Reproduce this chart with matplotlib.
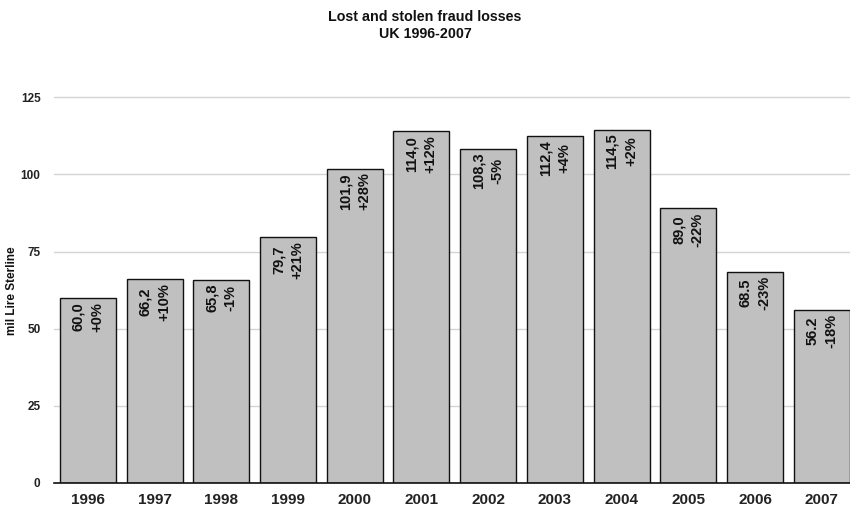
import matplotlib.pyplot as plt
import numpy as np

plt.rcParams['font.family'] = ['Liberation Sans', 'DejaVu Sans']

years = ["1996", "1997", "1998", "1999", "2000", "2001",
         "2002", "2003", "2004", "2005", "2006", "2007"]
losses = [60.0, 66.2, 65.8, 79.7, 101.9, 114.0, 108.3, 112.4, 114.5, 89.0, 68.5, 56.2]
loss_text = ["60,0", "66,2", "65,8", "79,7", "101,9", "114,0",
             "108,3", "112,4", "114,5", "89,0", "68.5", "56.2"]
change = ["+0%", "+10%", "-1%", "+21%", "+28%", "+12%",
          "-5%", "+4%", "+2%", "-22%", "-23%", "-18%"]
yticks = [0, 25, 50, 75, 100, 125]

fig = plt.figure(figsize=(8.5, 5.09), dpi=100)
ax = fig.add_axes([0.0641, 0.0511, 0.9418, 0.788])

x = np.arange(len(years))
ax.bar(x, losses, width=0.84, color="#c0c0c0", edgecolor="#111111", linewidth=1.0, zorder=2)

for xi, v, t, c in zip(x, losses, loss_text, change):
    ax.text(xi, v - 1.3, t + "\n" + c, rotation=90, ha="center", va="top",
            multialignment="center", fontsize=10.5, fontweight="bold",
            color="#111111", linespacing=1.45, zorder=3)

ax.set_xlim(-0.5, len(years) - 0.5)
ax.set_ylim(0, 130)
ax.set_xticks(x)
ax.set_xticklabels(years, fontsize=11, fontweight="bold", color="#222222")
ax.set_yticks(yticks)
ax.set_yticklabels([str(t) for t in yticks], fontsize=8.5, fontweight="bold", color="#222222")
ax.tick_params(axis="both", length=0)
ax.tick_params(axis="x", pad=7)
ax.tick_params(axis="y", pad=10)

ax.yaxis.grid(True, color="#d4d4d4", linewidth=1.0, zorder=0)
ax.set_axisbelow(True)
for side in ["top", "right", "left"]:
    ax.spines[side].set_visible(False)
ax.spines["bottom"].set_color("#111111")
ax.spines["bottom"].set_linewidth(1.2)

ax.set_ylabel("mil Lire Sterline", fontsize=8.5, fontweight="bold", color="#111111")
ax.yaxis.set_label_coords(-0.046, 0.48)

fig.text(0.5, 0.98, "Lost and stolen fraud losses\nUK 1996-2007", ha="center", va="top",
         fontsize=10.3, fontweight="bold", color="#111111", linespacing=1.3)

fig.savefig("out.png", dpi=100)
